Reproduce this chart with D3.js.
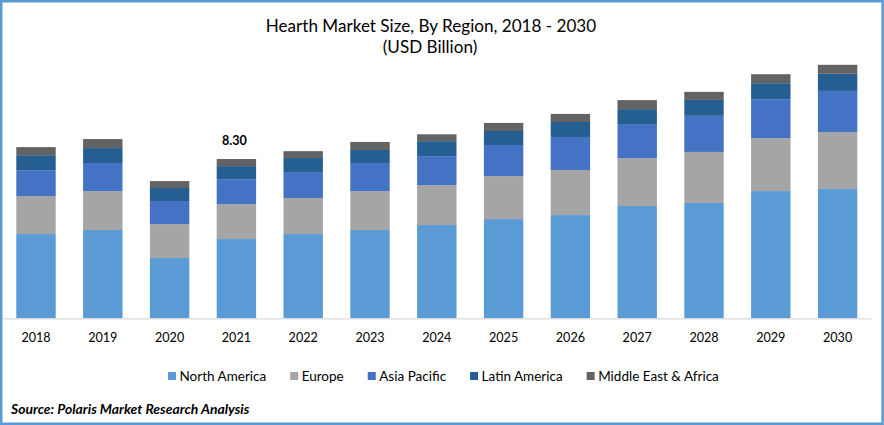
<!DOCTYPE html>
<html><head><meta charset="utf-8">
<script src="https://cdn.jsdelivr.net/npm/d3@7"></script>
<style>
html,body{margin:0;padding:0;background:#fff}
svg{display:block}
text{font-family:Lato,"Open Sans",sans-serif;fill:#000}
</style></head><body>
<svg id="c" width="884" height="425"></svg>
<script>
const years = ["2018","2019","2020","2021","2022","2023","2024","2025","2026","2027","2028","2029","2030"];
const regions = ["North America","Europe","Asia Pacific","Latin America","Middle East & Africa"];
const colors = ["#5B9BD5","#A5A5A5","#4472C4","#255E91","#636363"];
const northAmerica = [4.39,4.60,3.14,4.13,4.39,4.60,4.86,5.17,5.38,5.85,6.01,6.63,6.74];
const europe       = [1.98,2.03,1.77,1.82,1.88,2.03,2.08,2.24,2.35,2.50,2.66,2.76,2.97];
const asiaPacific  = [1.35,1.46,1.20,1.30,1.35,1.46,1.51,1.62,1.72,1.77,1.88,2.03,2.14];
const latinAmerica = [0.78,0.78,0.68,0.68,0.73,0.68,0.78,0.73,0.78,0.78,0.83,0.83,0.89];
const middleEast   = [0.42,0.47,0.36,0.37,0.36,0.42,0.36,0.42,0.42,0.47,0.42,0.47,0.47];
const annotationYear = "2021", annotationLabel = "8.30";

const rows = years.map((y,i)=>({year:y,
  "North America":northAmerica[i],"Europe":europe[i],"Asia Pacific":asiaPacific[i],
  "Latin America":latinAmerica[i],"Middle East & Africa":middleEast[i]}));
const stacked = d3.stack().keys(regions)(rows);

const svg = d3.select("#c");
const W=884,H=425,base=318.3;
const x = d3.scaleBand().domain(years).range([2.6,871]).paddingInner(0.41).paddingOuter(0.205);
const y = d3.scaleLinear().domain([0,10]).range([base,base-191.9]);

svg.append("rect").attr("x",1.25).attr("y",1.25).attr("width",W-2.6).attr("height",H-2.5)
  .attr("fill","#fff").attr("stroke","#5B9BD5").attr("stroke-width",2.5);

svg.selectAll("g.s").data(stacked).join("g").attr("class","s")
  .attr("fill",(d,i)=>colors[i])
  .selectAll("rect").data(d=>d).join("rect")
  .attr("x",d=>x(d.data.year)).attr("width",x.bandwidth())
  .attr("y",d=>y(d[1])).attr("height",d=>y(d[0])-y(d[1]));

const ax = svg.append("g").attr("transform",`translate(0,${base})`)
  .call(d3.axisBottom(x).tickSize(0).tickPadding(15));
ax.select(".domain").attr("stroke","#d9d9d9").attr("stroke-width",1.2);
ax.selectAll("text").style("font-family","Lato,sans-serif").style("font-size","12.6px").attr("fill","#000");

const title = svg.append("g").attr("text-anchor","middle").style("font-size","17.1px");
title.append("text").attr("x",431).attr("y",31.5).text("Hearth Market Size, By Region, 2018 - 2030");
title.append("text").attr("x",430).attr("y",53).text("(USD Billion)");

svg.append("text").attr("x",x(annotationYear)+x.bandwidth()/2-2).attr("y",145)
  .attr("text-anchor","middle").style("font-size","12.6px").style("font-weight",700).text(annotationLabel);

let lx=168;
const leg=svg.append("g");
regions.forEach((r,i)=>{
  leg.append("rect").attr("x",lx).attr("y",372).attr("width",8).attr("height",8).attr("fill",colors[i]);
  const t=leg.append("text").attr("x",lx+11.5).attr("y",380.5).style("font-size","13.5px").text(r);
  lx+=11.5+t.node().getComputedTextLength()+24;
});

svg.append("text").attr("x",11).attr("y",414).style("font-size","13.9px")
  .style("font-weight",700).style("font-style","italic").text("Source: Polaris  Market Research Analysis");
</script></body></html>
